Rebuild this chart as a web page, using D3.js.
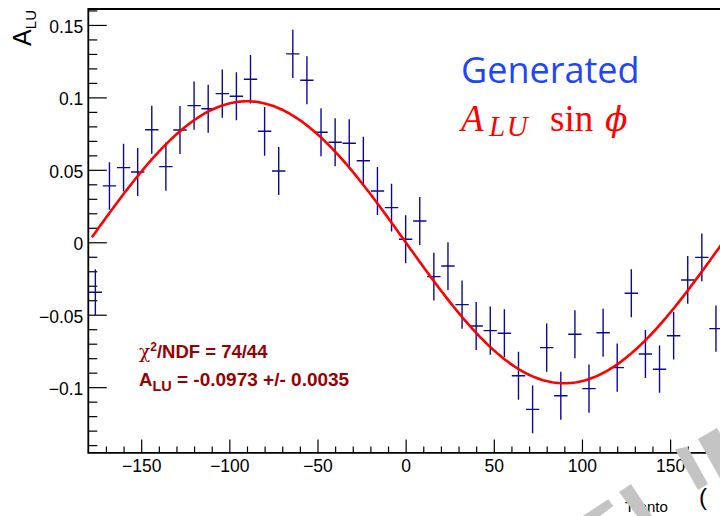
<!DOCTYPE html>
<html>
<head>
<meta charset="utf-8">
<script src="https://cdn.jsdelivr.net/npm/d3@7"></script>
<style>
  html, body { margin: 0; padding: 0; background: #ffffff; }
  svg { display: block; }
</style>
</head>
<body>
<svg id="chart" width="720" height="516"></svg>
<script>
// ---------------- data ----------------
const phiCenters = [-176,-168,-160,-152,-144,-136,-128,-120,-112,-104,-96,-88,-80,-72,-64,-56,-48,-40,-32,-24,-16,-8,0,8,16,24,32,40,48,56,64,72,80,88,96,104,112,120,128,136,144,152,160,168,176];
const aluValues = [-0.0345,0.0389,0.0515,0.0485,0.0777,0.0522,0.0775,0.0943,0.0922,0.1026,0.1008,0.1125,0.0766,0.0492,0.1300,0.1118,0.0759,0.0690,0.0683,0.0563,0.0354,0.0239,0.0021,0.0147,-0.0237,-0.0164,-0.0430,-0.0578,-0.0610,-0.0628,-0.0921,-0.1153,-0.0727,-0.1059,-0.0635,-0.1010,-0.0624,-0.0865,-0.0352,-0.0771,-0.0876,-0.0645,-0.0260,-0.0104,-0.0596];
const aluErrors = [0.0158,0.0164,0.0165,0.0165,0.0166,0.0166,0.0166,0.0166,0.0166,0.0166,0.0166,0.0167,0.0168,0.0166,0.0166,0.0166,0.0166,0.0166,0.0166,0.0166,0.0165,0.0165,0.0165,0.0165,0.0165,0.0165,0.0166,0.0166,0.0166,0.0166,0.0166,0.0165,0.0166,0.0166,0.0166,0.0166,0.0166,0.0166,0.0165,0.0166,0.0163,0.0164,0.0165,0.0165,0.0160];
const binHalfWidth = 3.8;
const fitALU = -0.0973;
const fitRange = [-178, 180];

const xMajorTicks = [-150,-100,-50,0,50,100,150];
const xTickLabels = ["\u2212150","\u2212100","\u221250","0","50","100","150"];
const xMinorTicks = [-170,-160,-140,-130,-120,-110,-90,-80,-70,-60,-40,-30,-20,-10,10,20,30,40,60,70,80,90,110,120,130,140,160,170];
const yMajorTicks = [-0.1,-0.05,0,0.05,0.1,0.15];
const yTickLabels = ["\u22120.1","\u22120.05","0","0.05","0.1","0.15"];
const yMinorTicks = [-0.14,-0.13,-0.12,-0.11,-0.09,-0.08,-0.07,-0.06,-0.04,-0.03,-0.02,-0.01,0.01,0.02,0.03,0.04,0.06,0.07,0.08,0.09,0.11,0.12,0.13,0.14,0.16];

// ---------------- layout ----------------
const svg = d3.select("#chart");
const L = 88.3, R = 723, T = 9, B = 452.8;
const x = d3.scaleLinear().domain([-180, 180]).range([L, R]);
const y = d3.scaleLinear().domain([-0.1453, 0.161]).range([B, T]);

svg.append("rect").attr("width", 720).attr("height", 516).attr("fill", "#ffffff");

svg.append("defs").append("clipPath").attr("id", "plotclip")
  .append("rect").attr("x", L).attr("y", T).attr("width", R - L).attr("height", B - T);

const FONT = "'Liberation Sans', Arial, Helvetica, sans-serif";

// ---- axes ----
const yMajor = d3.axisLeft(y).tickValues(yMajorTicks)
  .tickFormat((d, i) => yTickLabels[i]).tickSizeInner(-18.5).tickSizeOuter(0).tickPadding(5);
const yMinor = d3.axisLeft(y).tickValues(yMinorTicks).tickFormat("").tickSizeInner(-9).tickSizeOuter(0);
const xMajor = d3.axisBottom(x).tickValues(xMajorTicks)
  .tickFormat((d, i) => xTickLabels[i]).tickSizeInner(-13.3).tickSizeOuter(0).tickPadding(7);
const xMinor = d3.axisBottom(x).tickValues(xMinorTicks).tickFormat("").tickSizeInner(-6.3).tickSizeOuter(0);

function styleAxis(g) {
  g.select(".domain").remove();
  g.selectAll(".tick line").attr("stroke", "#000").attr("stroke-width", 1.2);
  g.selectAll(".tick text").attr("fill", "#000").style("font-family", FONT).style("font-size", "17.5px");
}
svg.append("g").attr("transform", `translate(${L},0)`).call(yMinor).call(styleAxis);
svg.append("g").attr("transform", `translate(${L},0)`).call(yMajor).call(styleAxis)
  .selectAll(".tick text").attr("dy", "0.42em");
svg.append("g").attr("transform", `translate(0,${B})`).call(xMinor).call(styleAxis);
svg.append("g").attr("transform", `translate(0,${B})`).call(xMajor).call(styleAxis);

// frame
svg.append("path")
  .attr("d", `M${R},${T} L${L},${T} L${L},${B} L${R},${B}`)
  .attr("fill", "none").attr("stroke", "#000").attr("stroke-width", 1.8);

// ---- data points ----
const pts = phiCenters.map((p, i) => ({ p, v: aluValues[i], e: aluErrors[i] }));
const gData = svg.append("g").attr("clip-path", "url(#plotclip)")
  .attr("stroke", "#0a0a96").attr("stroke-width", 1.4);
gData.selectAll("line.h").data(pts).join("line").attr("class", "h")
  .attr("x1", d => x(d.p - binHalfWidth)).attr("x2", d => x(d.p + binHalfWidth))
  .attr("y1", d => y(d.v)).attr("y2", d => y(d.v));
gData.selectAll("line.v").data(pts).join("line").attr("class", "v")
  .attr("x1", d => x(d.p)).attr("x2", d => x(d.p))
  .attr("y1", d => y(d.v - d.e)).attr("y2", d => y(d.v + d.e));

// ---- fit curve A_LU * sin(phi) ----
const fitPts = d3.range(fitRange[0], fitRange[1] + 0.001, 1).map(p => [p, fitALU * Math.sin(p * Math.PI / 180)]);
svg.append("path").attr("clip-path", "url(#plotclip)")
  .attr("d", d3.line().x(d => x(d[0])).y(d => y(d[1]))(fitPts))
  .attr("fill", "none").attr("stroke", "#ff0000").attr("stroke-width", 2.6);

// ---- legend text ----
svg.append("text").attr("x", 461).attr("y", 83)
  .style("font-family", "'Open Sans', Lato, sans-serif").style("font-size", "36px")
  .attr("fill", "#1f45fc").text("Generated");

const leg2 = svg.append("text").attr("x", 461).attr("y", 131)
  .style("font-family", "'Liberation Serif', 'DejaVu Serif', serif").style("font-size", "37px")
  .attr("fill", "#ff0000");
leg2.append("tspan").style("font-style", "italic").text("A");
leg2.append("tspan").attr("x", 489).style("font-style", "italic").style("font-size", "29px")
  .style("letter-spacing", "1.5px").attr("dy", 5).text("LU");
leg2.append("tspan").attr("x", 550).attr("dy", -5).text("sin");
leg2.append("tspan").attr("x", 605).style("font-family", "'DejaVu Serif', serif").style("font-style", "italic").style("font-size", "33px").text("\u03D5");

// ---- fit statistics ----
const statColor = "#990000";
const s1 = svg.append("text").attr("x", 139).attr("y", 357.7)
  .style("font-family", FONT).style("font-size", "18.5px").style("font-weight", "bold").attr("fill", statColor);
s1.append("tspan").style("font-family", "'DejaVu Serif', serif").style("font-weight", "normal").text("\u03C7");
s1.append("tspan").style("font-size", "12px").attr("dy", -7).text("2");
s1.append("tspan").attr("dy", 7).text("/NDF = 74/44");

const s2 = svg.append("text").attr("x", 139).attr("y", 385.7)
  .style("font-family", FONT).style("font-size", "18.5px").style("font-weight", "bold").attr("fill", statColor);
s2.append("tspan").text("A");
s2.append("tspan").style("font-size", "14.5px").attr("dy", 5).text("LU");
s2.append("tspan").attr("dy", -5).style("font-size", "19px").text(" = -0.0973 +/- 0.0035");

// ---- y axis title ----
const yt = svg.append("text").attr("transform", "translate(31,10) rotate(-90)")
  .attr("text-anchor", "end").style("font-family", FONT).style("font-size", "25px").attr("fill", "#000");
yt.append("tspan").text("A");
yt.append("tspan").style("font-size", "15px").attr("dy", 5).text("LU");

// ---- partial watermark / overlapping annotations at bottom right ----
svg.append("text").attr("x", 625).attr("y", 512)
  .style("font-family", FONT).style("font-size", "15px").attr("fill", "#000").text("Trento");
const stampPolys = [
  [[582.7,516],[608.3,499.3],[613.3,506],[600,516]],
  [[619,492],[631,484],[652,516],[637,516]],
  [[675,449.3],[687.3,446.7],[708,484],[698,490]],
  [[698,439],[717,428],[742,470],[722,482]]
];
svg.append("g").selectAll("polygon").data(stampPolys).join("polygon")
  .attr("points", d => d.map(p => p.join(",")).join(" "))
  .attr("fill", "#c4c4c4");
svg.append("text").attr("x", 699).attr("y", 505)
  .style("font-family", FONT).style("font-size", "24px").attr("fill", "#000").text("(");
</script>
</body>
</html>
